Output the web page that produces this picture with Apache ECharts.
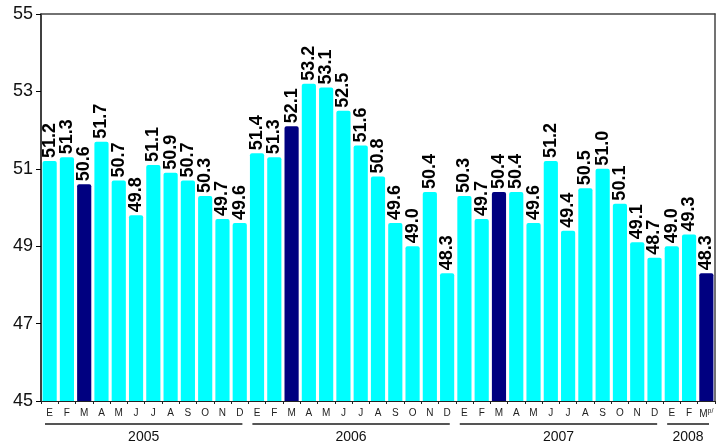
<!DOCTYPE html>
<html>
<head>
<meta charset="utf-8">
<script src="https://cdn.jsdelivr.net/npm/echarts@6/dist/echarts.min.js"></script>
<style>
  html, body { margin: 0; padding: 0; background: #fff; }
  #chart { width: 722px; height: 445px; }
</style>
</head>
<body>
<div id="chart"></div>
<script>
// month letters (spanish initials), 2005-01 .. 2008-03
var months = [
  'E', 'F', 'M', 'A', 'M', 'J', 'J', 'A', 'S', 'O', 'N', 'D',
  'E', 'F', 'M', 'A', 'M', 'J', 'J', 'A', 'S', 'O', 'N', 'D',
  'E', 'F', 'M', 'A', 'M', 'J', 'J', 'A', 'S', 'O', 'N', 'D',
  'E', 'F', 'Mp/'
]
var values = [
  51.2, 51.3, 50.6, 51.7, 50.7, 49.8, 51.1, 50.9, 50.7, 50.3, 49.7, 49.6,
  51.4, 51.3, 52.1, 53.2, 53.1, 52.5, 51.6, 50.8, 49.6, 49.0, 50.4, 48.3,
  50.3, 49.7, 50.4, 50.4, 49.6, 51.2, 49.4, 50.5, 51.0, 50.1, 49.1, 48.7,
  49.0, 49.3, 48.3
]
var years = ['2005', '2006', '2007', '2008']
var yearCounts = [12, 12, 12, 3]
var darkBars = [2, 14, 26, 38]

var FONT = 'Liberation Sans, Arial, sans-serif'
var chart = echarts.init(document.getElementById('chart'))

var barData = values.map(function(v, i) {
  return {
    value: v,
    itemStyle: { color: darkBars.indexOf(i) >= 0 ? '#000080' : '#00ffff' }
  }
})

chart.setOption({
  animation: false,
  grid: { left: 41, right: 7, top: 14, bottom: 44 },
  xAxis: [{
    type: 'category',
    data: months,
    axisLine: { lineStyle: { color: '#222', width: 1 } },
    axisTick: { show: true, length: 3, lineStyle: { color: '#222' } },
    axisLabel: {
      interval: 0,
      margin: 7,
      fontSize: 10,
      color: '#222',
      fontFamily: FONT,
      formatter: function(v) {
        return v === 'Mp/' ? 'M{sup|p/}' : v
      },
      rich: {
        sup: { fontSize: 7, fontFamily: FONT, color: '#222', padding: [0, 0, 5, 0] }
      }
    }
  }, {
    type: 'category',
    position: 'top',
    data: months,
    axisLine: { lineStyle: { color: '#444', width: 1.5 } },
    axisTick: { show: false },
    axisLabel: { show: false }
  }],
  yAxis: [{
    type: 'value',
    min: 45,
    max: 55,
    interval: 2,
    axisLine: { show: true, lineStyle: { color: '#000', width: 1.5 } },
    axisTick: { show: true, length: 5, lineStyle: { color: '#000' } },
    splitLine: { show: false },
    axisLabel: { margin: 8, fontSize: 18, color: '#111', fontFamily: FONT }
  }, {
    type: 'value',
    min: 45,
    max: 55,
    interval: 2,
    position: 'right',
    axisLine: { show: true, lineStyle: { color: '#444', width: 1.5 } },
    axisTick: { show: false },
    axisLabel: { show: false },
    splitLine: { show: false }
  }],
  series: [{
    type: 'bar',
    data: barData,
    barCategoryGap: '18%',
    itemStyle: { borderRadius: [2, 2, 0, 0] },
    label: {
      show: true,
      position: 'top',
      rotate: 90,
      align: 'left',
      verticalAlign: 'middle',
      distance: 3,
      fontSize: 18,
      fontWeight: 'bold',
      color: '#000',
      fontFamily: FONT,
      formatter: function(p) { return p.value.toFixed(1) }
    }
  }]
})

// year underlines and labels below the month letters
var band = chart.convertToPixel({ xAxisIndex: 0 }, 1) - chart.convertToPixel({ xAxisIndex: 0 }, 0)
var graphics = []
var start = 0
years.forEach(function(y, k) {
  var end = start + yearCounts[k] - 1
  var x0 = chart.convertToPixel({ xAxisIndex: 0 }, start) - band / 2
  var x1 = chart.convertToPixel({ xAxisIndex: 0 }, end) + band / 2
  graphics.push({
    type: 'line',
    shape: { x1: x0 + 4, y1: 424, x2: x1 - 6, y2: 424 },
    style: { stroke: '#555', lineWidth: 2 }
  })
  graphics.push({
    type: 'text',
    x: (x0 + x1) / 2 - 1,
    y: 437,
    style: {
      text: y,
      fontSize: 14,
      fontFamily: FONT,
      fill: '#111',
      align: 'center',
      verticalAlign: 'middle'
    }
  })
  start = end + 1
})
chart.setOption({ graphic: graphics })
</script>
</body>
</html>
